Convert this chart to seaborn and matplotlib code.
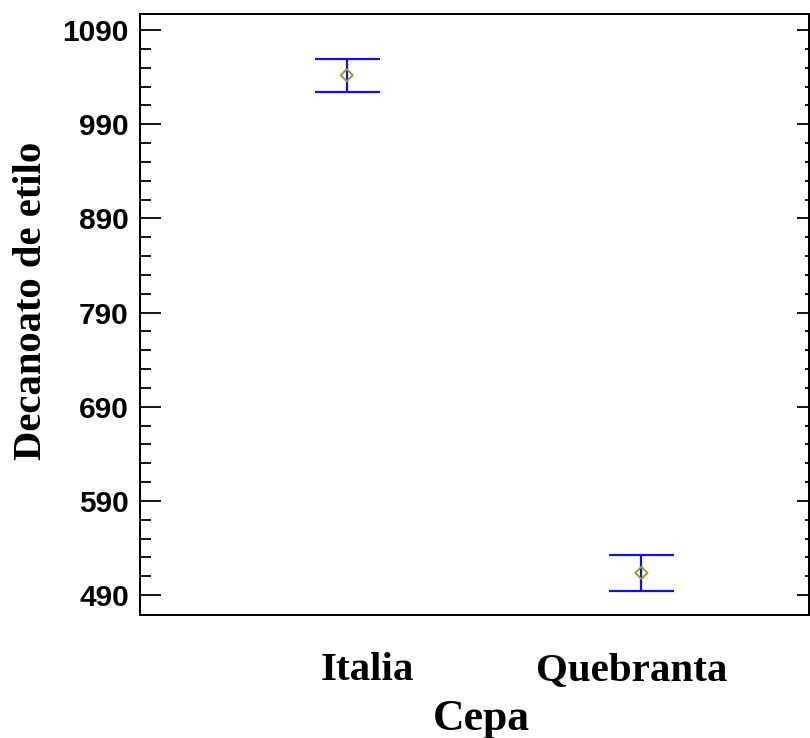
import numpy as np
import pandas as pd
import matplotlib
matplotlib.use("Agg")
import matplotlib.pyplot as plt
import seaborn as sns
from matplotlib.ticker import FixedLocator

# Means of ethyl decanoate by grape variety, with interval half-widths
cepas = ["Italia", "Quebranta"]
medias = [1042.0, 513.5]
semiancho = [17.5, 18.8]

yticks = [490, 590, 690, 790, 890, 990, 1090]
ymenores = [v for v in range(490, 1091, 20) if v not in yticks]

df = pd.DataFrame({"Cepa": cepas, "Decanoato de etilo": medias, "err": semiancho})

sns.set_style("white")
plt.rcParams["text.color"] = "black"
plt.rcParams["axes.labelcolor"] = "black"
plt.rcParams["xtick.color"] = "black"
plt.rcParams["ytick.color"] = "black"

fig = plt.figure(figsize=(8.1, 7.38), dpi=100)
ax = fig.add_axes([0.1728, 0.1667, 0.8262, 0.8143])

pos = np.arange(len(cepas))
ax.errorbar(pos, df["Decanoato de etilo"], yerr=df["err"], fmt="none",
            ecolor="#1010e8", elinewidth=1.6, capsize=23.4, capthick=1.6, zorder=2)
sns.scatterplot(x=pos, y=df["Decanoato de etilo"], ax=ax, marker="D", s=38,
                facecolor="none", edgecolor="#a09a20", linewidth=1.4, zorder=3,
                legend=False)

ax.set_xlim(-0.7017, 1.5695)
ax.set_ylim(468.8, 1107.0)
ax.set_xticks(pos)
ax.set_xticklabels([])
# category names, set slightly off their marks
xform = ax.get_xaxis_transform()
for p, cat, dx in zip(pos, cepas, [20.5, -10]):
    ax.annotate(cat, xy=(p, 0), xycoords=xform, xytext=(dx, -37),
                textcoords="offset pixels", ha="center", va="top",
                family="Liberation Serif", fontweight="bold", fontsize=29.5,
                annotation_clip=False)

ax.set_yticks(yticks)
ax.set_yticklabels([str(v) for v in yticks], family="Liberation Sans",
                   fontweight="bold", fontsize=21.5)
ax.yaxis.set_minor_locator(FixedLocator(ymenores))

ax.tick_params(axis="x", length=0)
ax.tick_params(axis="y", which="major", direction="in", length=15, width=1.3,
               left=True, right=False, pad=8)
ax.tick_params(axis="y", which="minor", direction="in", length=8, width=1.3,
               left=True, right=False)

# Right-side ticks are shorter
ax2 = ax.twinx()
ax2.set_ylim(ax.get_ylim())
ax2.set_yticks(yticks)
ax2.yaxis.set_minor_locator(FixedLocator(ymenores))
ax2.tick_params(axis="y", which="major", direction="in", length=9, width=1.3,
                labelright=False)
ax2.tick_params(axis="y", which="minor", direction="in", length=3, width=1.3)
ax2.set_yticklabels([])

for a in (ax, ax2):
    for s in a.spines.values():
        s.set_color("black")
        s.set_linewidth(1.3)

ax.set_xlabel("Cepa", family="Liberation Serif", fontweight="bold", fontsize=31.5)
ax.xaxis.set_label_coords(0.5097, -0.14)
ax.set_ylabel("Decanoato de etilo", family="Liberation Serif", fontweight="bold",
              fontsize=29.3)
ax.yaxis.set_label_coords(-0.135, 0.5225)

fig.savefig("out.png", dpi=100)
